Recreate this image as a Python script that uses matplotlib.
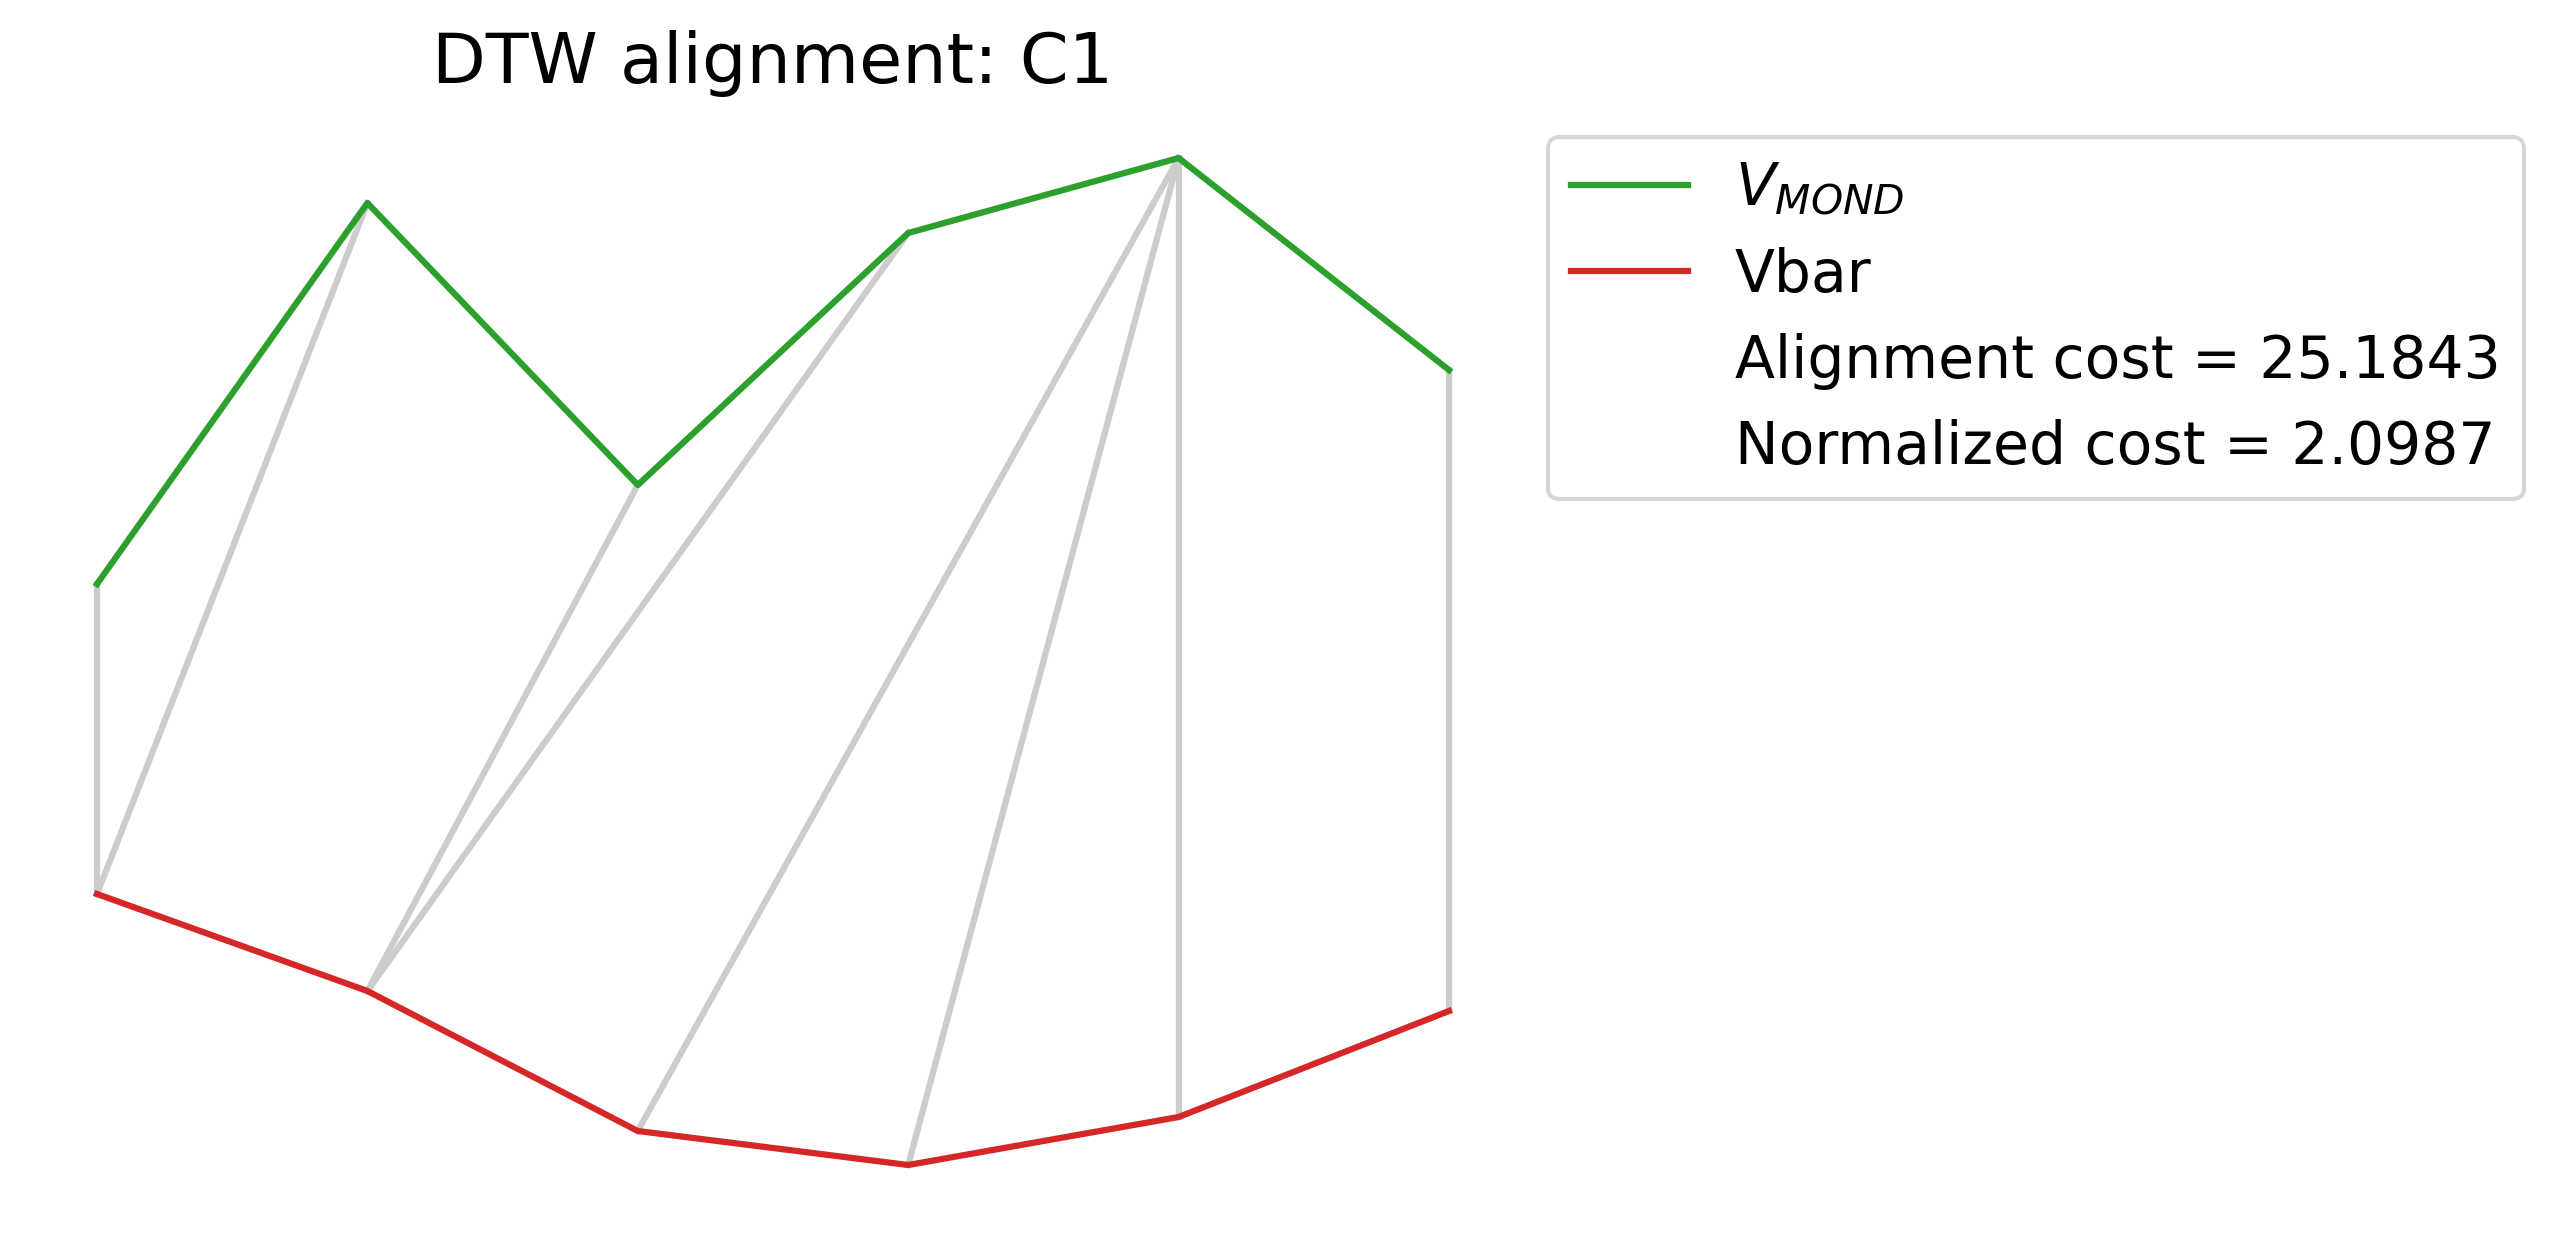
import matplotlib.pyplot as plt
from matplotlib.lines import Line2D

plt.rcParams['font.size'] = 14

# sample index along both curves
idx = [0, 1, 2, 3, 4, 5]
vmond = [61.6, 99.7, 71.5, 96.7, 104.2, 83.0]
vbar = [70.6, 60.9, 46.9, 43.5, 48.3, 58.9]
offset = 40.0

# warping path (query index, reference index)
path_q = [0, 1, 2, 3, 4, 4, 4, 5]
path_r = [0, 0, 1, 1, 2, 3, 4, 5]

align_cost = 25.1843
norm_cost = 2.0987
name = 'C1'

vbar_shift = [v - offset for v in vbar]

fig = plt.figure(figsize=(2552 / 300, 1246 / 300), dpi=300)
ax = fig.add_axes([29.4 / 2552, 46 / 1246, 1487.2 / 2552, 1100 / 1246])

for q, r in zip(path_q, path_r):
    ax.plot([idx[q], idx[r]], [vmond[q], vbar_shift[r]], color='0.8', lw=1.5, zorder=1)

ax.plot(idx, vmond, color='tab:green', lw=1.5, zorder=2)
ax.plot(idx, vbar_shift, color='tab:red', lw=1.5, zorder=2)

ax.set_xlim(-0.25, 5.25)
ax.set_ylim(0, 110)
ax.axis('off')
ax.set_title(f'DTW alignment: {name}', pad=4)

handles = [
    Line2D([], [], color='tab:green', lw=1.5),
    Line2D([], [], color='tab:red', lw=1.5),
    Line2D([], [], color='none'),
    Line2D([], [], color='none'),
]
labels = ['$V_{MOND}$', 'Vbar',
          f'Alignment cost = {align_cost:.4f}',
          f'Normalized cost = {norm_cost:.4f}']
fig.legend(handles, labels, loc='upper left',
           bbox_to_anchor=(1548 / 2552, 1 - 137 / 1246),
           bbox_transform=fig.transFigure, borderaxespad=0)

fig.savefig('out.png', dpi=300)
